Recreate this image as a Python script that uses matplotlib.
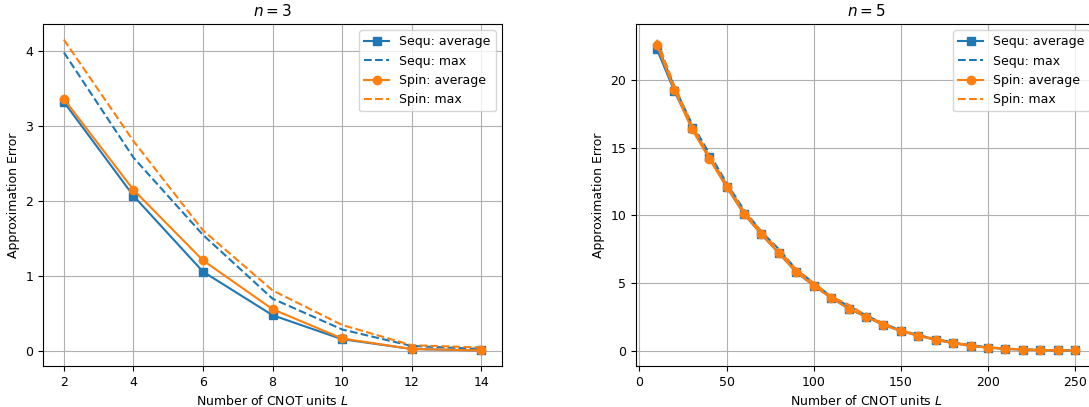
import numpy as np
import matplotlib
matplotlib.use("Agg")
import matplotlib.pyplot as plt

plt.rcParams["font.size"] = 9

# n = 3
L3 = [2, 4, 6, 8, 10, 12, 14]
sequ_avg3 = [3.32, 2.07, 1.06, 0.48, 0.16, 0.03, 0.01]
sequ_max3 = [3.98, 2.58, 1.55, 0.70, 0.29, 0.07, 0.03]
spin_avg3 = [3.36, 2.15, 1.21, 0.56, 0.17, 0.03, 0.01]
spin_max3 = [4.15, 2.80, 1.61, 0.81, 0.35, 0.08, 0.05]

# n = 5
L5 = list(range(10, 251, 10))
sequ_avg5 = [22.3, 19.2, 16.5, 14.3, 12.1, 10.1, 8.6, 7.2, 5.8, 4.8, 3.9, 3.1,
             2.5, 1.9, 1.45, 1.1, 0.8, 0.55, 0.35, 0.22, 0.13, 0.07, 0.04, 0.02, 0.01]
sequ_max5 = [22.7, 19.5, 16.8, 14.6, 12.4, 10.4, 8.8, 7.5, 6.0, 5.0, 4.0, 3.3,
             2.6, 2.0, 1.5, 1.15, 0.85, 0.6, 0.4, 0.25, 0.15, 0.09, 0.05, 0.03, 0.02]
spin_avg5 = [22.6, 19.3, 16.4, 14.2, 12.1, 10.1, 8.6, 7.2, 5.8, 4.8, 3.9, 3.1,
             2.5, 1.9, 1.45, 1.1, 0.8, 0.55, 0.35, 0.22, 0.13, 0.07, 0.04, 0.02, 0.01]
spin_max5 = [23.0, 19.6, 16.7, 14.4, 12.3, 10.3, 8.8, 7.4, 6.0, 5.0, 4.0, 3.4,
             2.6, 2.0, 1.5, 1.15, 0.85, 0.6, 0.4, 0.25, 0.15, 0.09, 0.05, 0.03, 0.02]

fig = plt.figure(figsize=(10.89, 4.07), dpi=100)
ax1 = fig.add_axes([0.0395, 0.1007, 0.4215, 0.840])
ax2 = fig.add_axes([0.584, 0.1007, 0.4225, 0.840])

panels = [
    (ax1, L3, sequ_avg3, sequ_max3, spin_avg3, spin_max3, "$n=3$"),
    (ax2, L5, sequ_avg5, sequ_max5, spin_avg5, spin_max5, "$n=5$"),
]
for ax, L, sa, sm, pa, pm, title in panels:
    ax.plot(L, sa, "s-", color="C0", label="Sequ: average")
    ax.plot(L, sm, "--", color="C0", label="Sequ: max")
    ax.plot(L, pa, "o-", color="C1", label="Spin: average")
    ax.plot(L, pm, "--", color="C1", label="Spin: max")
    ax.grid(True)
    ax.set_xlabel("Number of CNOT units $L$")
    ax.set_ylabel("Approximation Error")
    ax.set_title(title, fontsize=11)
    ax.legend(loc="upper right")

ax1.set_xticks(L3)
ax2.set_xticks([0, 50, 100, 150, 200, 250])

fig.savefig("out.png", dpi=100)
